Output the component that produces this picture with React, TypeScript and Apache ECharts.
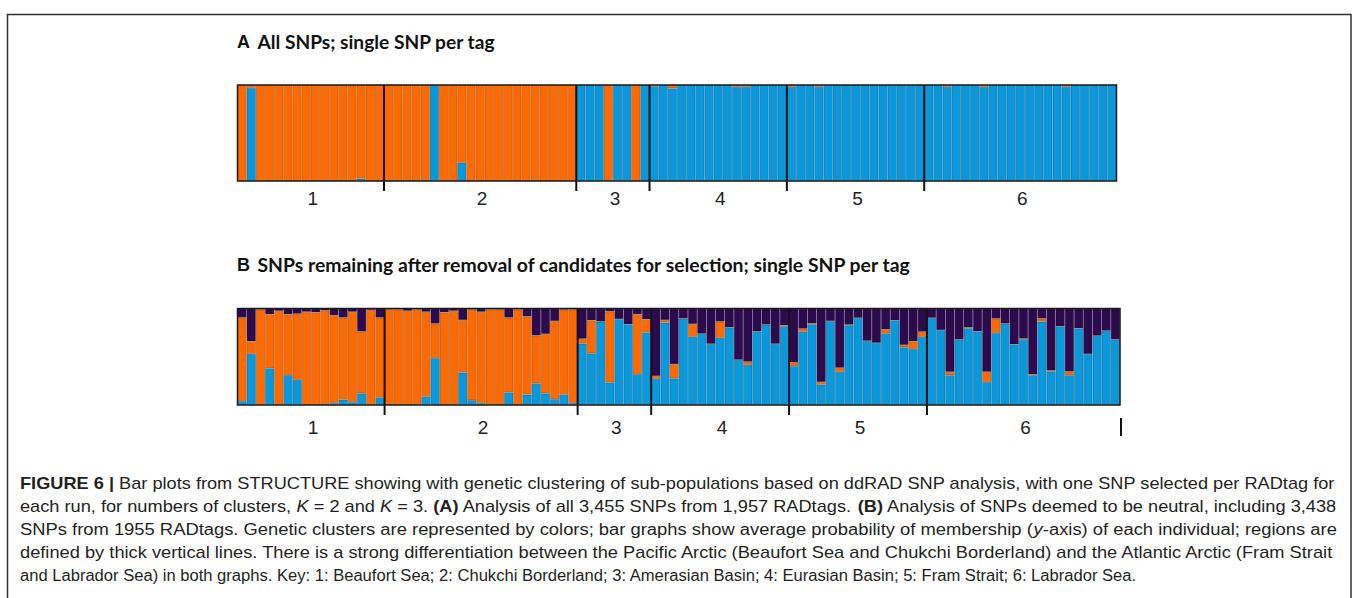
import React, { useEffect, useRef } from 'react';
import * as echarts from 'echarts';

// ---------- data ----------
const popSizes = [16, 21, 8, 15, 15, 21];
const popLabels = ['1', '2', '3', '4', '5', '6'];

// Panel A (K = 2): membership per individual
const blueA = [
  0, 0.97, 0, 0, 0, 0, 0, 0, 0, 0, 0, 0, 0, 0.025, 0, 0,
  0, 0, 0, 0, 0.01, 1, 0, 0, 0.19, 0, 0, 0, 0, 0, 0, 0, 0.01, 0, 0, 0, 0,
  1, 1, 1, 0.01, 1, 1, 0, 1,
  0.985, 1, 0.965, 1, 1, 1, 1, 1, 1, 0.98, 0.98, 1, 1, 1, 1,
  0.98, 1, 1, 0.98, 1, 1, 1, 1, 1, 1, 1, 1, 1, 1, 1,
  1, 1, 0.98, 1, 1, 1, 0.98, 1, 1, 1, 1, 1, 1, 1, 1, 0.98, 1, 1, 1, 1, 1,
];
const orangeA = [
  1, 0.03, 1, 1, 1, 1, 1, 1, 1, 1, 1, 1, 1, 0.975, 1, 1,
  1, 1, 1, 1, 0.99, 0, 1, 1, 0.81, 1, 1, 1, 1, 1, 1, 1, 0.99, 1, 1, 1, 1,
  0, 0, 0, 0.99, 0, 0, 1, 0,
  0.015, 0, 0.035, 0, 0, 0, 0, 0, 0, 0.02, 0.02, 0, 0, 0, 0,
  0.02, 0, 0, 0.02, 0, 0, 0, 0, 0, 0, 0, 0, 0, 0, 0,
  0, 0, 0.02, 0, 0, 0, 0.02, 0, 0, 0, 0, 0, 0, 0, 0, 0.02, 0, 0, 0, 0, 0,
];

// Panel B (K = 3)
const blueB = [
  0.04, 0.53, 0, 0.38, 0, 0.31, 0.26, 0, 0, 0.01, 0.02, 0.055, 0.03, 0.12, 0, 0.077,
  0, 0, 0, 0, 0.085, 0.486, 0, 0, 0.336, 0.05, 0.02, 0, 0, 0.13, 0, 0.108, 0.224, 0.12, 0.06, 0.108, 0.02,
  0.636, 0.535, 0.864, 0.234, 0.89, 0.836, 0.32, 0.752,
  0.27, 0.853, 0.276, 0.895, 0.706, 0.738, 0.633, 0.696, 0.804, 0.468, 0.416, 0.762, 0.832, 0.633, 0.815,
  0.402, 0.759, 0.836, 0.21, 0.87, 0.343, 0.825, 0.902, 0.664, 0.643, 0.741, 0.878, 0.598, 0.58, 0.706,
  0.902, 0.776, 0.308, 0.678, 0.794, 0.762, 0.238, 0.745, 0.843, 0.629, 0.682, 0.308, 0.864, 0.346, 0.815, 0.308, 0.794, 0.528, 0.717, 0.769, 0.678,
];
const orangeB = [
  0.865, 0.13, 0.99, 0.56, 0.975, 0.63, 0.685, 0.965, 0.96, 0.97, 0.91, 0.85, 0.935, 0.64, 0.985, 0.828,
  0.99, 0.99, 0.975, 0.99, 0.88, 0.357, 0.96, 0.975, 0.544, 0.94, 0.945, 0.99, 0.99, 0.775, 0.99, 0.809, 0.496, 0.615, 0.81, 0.88, 0.97,
  0.049, 0.343, 0, 0.735, 0, 0, 0.62, 0.136,
  0.03, 0.027, 0.147, 0, 0.133, 0, 0, 0.168, 0, 0, 0.032, 0, 0, 0, 0.01,
  0.038, 0.031, 0.01, 0.028, 0, 0.042, 0.007, 0, 0, 0, 0.042, 0, 0.024, 0.08, 0.053,
  0, 0, 0.035, 0, 0.01, 0, 0.105, 0.15, 0, 0, 0.01, 0.01, 0.031, 0.011, 0, 0.038, 0, 0, 0, 0, 0,
];
const purpleB = [
  0.095, 0.34, 0.01, 0.06, 0.025, 0.06, 0.055, 0.035, 0.04, 0.02, 0.07, 0.095, 0.035, 0.24, 0.015, 0.095,
  0.01, 0.01, 0.025, 0.01, 0.035, 0.157, 0.04, 0.025, 0.12, 0.01, 0.035, 0.01, 0.01, 0.095, 0.01, 0.083, 0.28, 0.265, 0.13, 0.012, 0.01,
  0.315, 0.122, 0.136, 0.031, 0.11, 0.164, 0.06, 0.112,
  0.7, 0.12, 0.577, 0.105, 0.161, 0.262, 0.367, 0.136, 0.196, 0.532, 0.552, 0.238, 0.168, 0.367, 0.175,
  0.56, 0.21, 0.154, 0.762, 0.13, 0.615, 0.168, 0.098, 0.336, 0.357, 0.217, 0.122, 0.378, 0.34, 0.241,
  0.098, 0.224, 0.657, 0.322, 0.196, 0.238, 0.657, 0.105, 0.157, 0.371, 0.308, 0.682, 0.105, 0.643, 0.185, 0.654, 0.206, 0.472, 0.283, 0.231, 0.322,
];

const titleA = ['A', 'All SNPs; single SNP per tag'];
const titleB = ['B', 'SNPs remaining after removal of candidates for selection; single SNP per tag'];

type Seg = [string, string];
const captionLines: Seg[][] = [
  [['b', 'FIGURE 6 |'], ['n', ' Bar plots from STRUCTURE showing with genetic clustering of sub-populations based on ddRAD SNP analysis, with one SNP selected per RADtag for']],
  [['n', 'each run, for numbers of clusters, '], ['i', 'K'], ['n', ' = 2 and '], ['i', 'K'], ['n', ' = 3. '], ['b', '(A)'], ['n', ' Analysis of all 3,455 SNPs from 1,957 RADtags. '], ['b', '(B)'], ['n', ' Analysis of SNPs deemed to be neutral, including 3,438']],
  [['n', 'SNPs from 1955 RADtags. Genetic clusters are represented by colors; bar graphs show average probability of membership ('], ['i', 'y'], ['n', '-axis) of each individual; regions are']],
  [['n', 'defined by thick vertical lines. There is a strong differentiation between the Pacific Arctic (Beaufort Sea and Chukchi Borderland) and the Atlantic Arctic (Fram Strait']],
  [['n', 'and Labrador Sea) in both graphs. Key: 1: Beaufort Sea; 2: Chukchi Borderland; 3: Amerasian Basin; 4: Eurasian Basin; 5: Fram Strait; 6: Labrador Sea.']],
];

// ---------- styling / layout ----------
const ORANGE = '#FF6A00';
const BLUE = '#0A98DC';
const PURPLE = '#2D0A4E';
const gridA = { left: 237.5, top: 85, width: 879, height: 96 };
const gridB = { left: 237.5, top: 308.5, width: 882.5, height: 96.5 };

const CAP_FAMILY = '"Liberation Sans", Arial, sans-serif';
const TITLE_FAMILY = 'Lato, "Open Sans", sans-serif';

let measureCtx: CanvasRenderingContext2D | null = null;
function measureSegs(segs: Seg[], size: number, family: string, baseWeight = 'normal') {
  if (!measureCtx) measureCtx = document.createElement('canvas').getContext('2d');
  let w = 0;
  for (const [k, t] of segs) {
    const style = k === 'i' ? 'italic ' : '';
    const weight = k === 'b' ? 'bold ' : baseWeight + ' ';
    measureCtx!.font = `${style}${weight}${size}px ${family}`;
    w += measureCtx!.measureText(t).width;
  }
  return w;
}

function richLine(segs: Seg[], x: number, y: number, width: number, size: number, family: string, color: string, baseWeight = 'normal') {
  const w = measureSegs(segs, size, family, baseWeight);
  const base = { fontFamily: family, fontSize: size, fill: color, lineHeight: size * 1.2 };
  return {
    type: 'text',
    x,
    y,
    scaleX: width / w,
    z: 50,
    silent: true,
    style: {
      text: segs.map(([k, t]) => `{${k}|${t}}`).join(''),
      align: 'left',
      verticalAlign: 'middle',
      fill: color,
      font: `${baseWeight} ${size}px ${family}`,
      rich: {
        n: { ...base, fontWeight: baseWeight },
        b: { ...base, fontWeight: 'bold' },
        i: { ...base, fontWeight: baseWeight, fontStyle: 'italic' },
      },
    },
  };
}

export default function App() {
  const ref = useRef<HTMLDivElement>(null);

  useEffect(() => {
    if (!ref.current) return;
    const chart = echarts.init(ref.current, undefined, { renderer: 'svg' });

    const total = popSizes.reduce((a, b) => a + b, 0);
    const cats = Array.from({ length: total }, (_, i) => String(i + 1));
    const popRanges: number[][] = [];
    let acc = 0;
    for (const s of popSizes) {
      popRanges.push([acc, acc + s]);
      acc += s;
    }

    const barSeries = (name: string, data: number[], color: string, axis: number, stack: string) => ({
      type: 'bar',
      name,
      stack,
      xAxisIndex: axis,
      yAxisIndex: axis,
      data: data.map((v) => (v > 0 ? v : null)),
      barCategoryGap: '0%',
      barGap: '0%',
      silent: true,
      itemStyle: { color, borderColor: 'rgba(0,0,0,0.35)', borderWidth: 0.6 },
    });

    const popSeries = (axis: number, labelOffset: number) => ({
      type: 'custom',
      xAxisIndex: axis,
      yAxisIndex: axis,
      clip: false,
      silent: true,
      z: 10,
      data: popRanges,
      renderItem: (params: any, api: any) => {
        const s = api.value(0) as number;
        const e = api.value(1) as number;
        const bw = api.size([1, 0])[0];
        const left = api.coord([s, 0])[0] - bw / 2;
        const right = api.coord([e - 1, 0])[0] + bw / 2;
        const yb = api.coord([s, 0])[1];
        const yt = api.coord([s, 1])[1];
        const children: any[] = [];
        if (s > 0) {
          children.push({
            type: 'line',
            shape: { x1: left, y1: yt, x2: left, y2: yb + 10 },
            style: { stroke: '#111', lineWidth: 2 },
          });
        }
        children.push({
          type: 'text',
          x: (left + right) / 2 + 2,
          y: yb + labelOffset,
          style: {
            text: popLabels[params.dataIndex],
            fill: '#222',
            font: '19px "Liberation Sans", Arial, sans-serif',
            align: 'center',
            verticalAlign: 'middle',
          },
        });
        return { type: 'group', children };
      },
    });

    const frame = (g: typeof gridA) => ({
      type: 'rect',
      z: 40,
      silent: true,
      shape: { x: g.left, y: g.top, width: g.width, height: g.height },
      style: { fill: 'none', stroke: '#1a1a1a', lineWidth: 1.5 },
    });

    const titleGraphic = (t: string[], y: number, restWidth: number) => [
      {
        type: 'text',
        x: 237,
        y,
        z: 50,
        silent: true,
        style: { text: t[0], font: 'bold 18px "Liberation Sans", Arial, sans-serif', fill: '#111', align: 'left', verticalAlign: 'middle' },
      },
      richLine([['n', t[1]]], 257.5, y, restWidth, 18, TITLE_FAMILY, '#111', 'bold'),
    ];

    const captionWidths = [1316, 1318, 1317, 1317, 1118];
    const captionY = [483, 506, 529, 552, 575];

    const graphics: any[] = [
      {
        type: 'rect',
        z: 1,
        silent: true,
        shape: { x: 7.5, y: 14.5, width: 1343.5, height: 620 },
        style: { fill: 'none', stroke: '#333', lineWidth: 1.5 },
      },
      frame(gridA),
      frame(gridB),
      ...titleGraphic(titleA, 42, 238),
      ...titleGraphic(titleB, 265, 655),
      {
        type: 'line',
        z: 40,
        silent: true,
        shape: { x1: 1121, y1: 418, x2: 1121, y2: 436 },
        style: { stroke: '#111', lineWidth: 2 },
      },
      ...captionLines.map((segs, i) => richLine(segs, 20, captionY[i], captionWidths[i], 16, CAP_FAMILY, '#231f20')),
    ];

    const hiddenX = (gi: number) => ({
      type: 'category',
      gridIndex: gi,
      data: cats,
      show: false,
      boundaryGap: true,
    });
    const hiddenY = (gi: number) => ({ type: 'value', gridIndex: gi, min: 0, max: 1, show: false });

    chart.setOption({
      animation: false,
      backgroundColor: '#ffffff',
      grid: [
        { ...gridA, outerBoundsMode: 'none', containLabel: false },
        { ...gridB, outerBoundsMode: 'none', containLabel: false },
      ],
      xAxis: [hiddenX(0), hiddenX(1)],
      yAxis: [hiddenY(0), hiddenY(1)],
      series: [
        barSeries('Cluster 1 (A)', blueA, BLUE, 0, 'A'),
        barSeries('Cluster 2 (A)', orangeA, ORANGE, 0, 'A'),
        barSeries('Cluster 1 (B)', blueB, BLUE, 1, 'B'),
        barSeries('Cluster 2 (B)', orangeB, ORANGE, 1, 'B'),
        barSeries('Cluster 3 (B)', purpleB, PURPLE, 1, 'B'),
        popSeries(0, 17),
        popSeries(1, 22),
      ],
      graphic: graphics,
    });

    return () => chart.dispose();
  }, []);

  return (
    <div
      ref={ref}
      style={{ position: 'fixed', left: 0, top: 0, width: 1358, height: 598, background: '#fff' }}
    />
  );
}
